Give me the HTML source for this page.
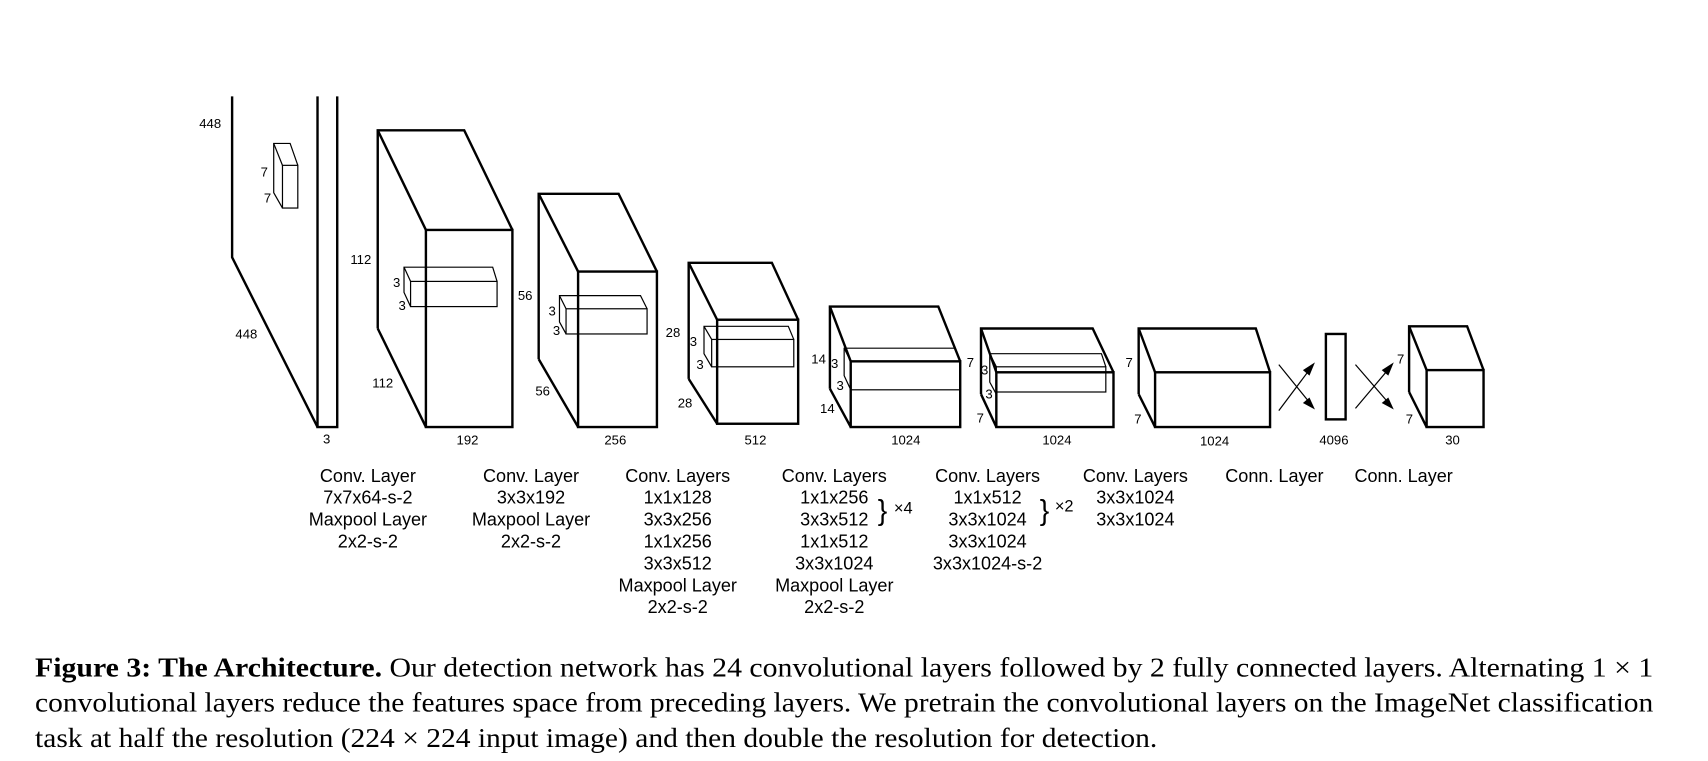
<!DOCTYPE html>
<html><head><meta charset="utf-8"><style>
html,body{margin:0;padding:0;background:#fff;}
svg{display:block;}
.l{font-family:"Liberation Sans",sans-serif;font-size:12px;fill:#000;}
.c{font-family:"Liberation Sans",sans-serif;font-size:16.5px;fill:#000;text-anchor:middle;}
.cap{font-family:"Liberation Serif",serif;font-size:25px;fill:#000;}
</style></head><body>
<svg width="1708" height="761" viewBox="0 0 1560 695" preserveAspectRatio="none" xmlns="http://www.w3.org/2000/svg">
<g fill="none" stroke="#000" stroke-width="2.2" stroke-linejoin="miter">
<polyline points="212,88 212,235 290,390"/>
<polyline points="290,88 290,390 308,390 308,88"/>
<polyline points="345,300 345,119 424,119 468,210"/>
<line x1="345" y1="119" x2="389" y2="210"/><line x1="345" y1="300" x2="389" y2="390"/>
<rect x="389" y="210" width="79" height="180"/>
<polyline points="492,328 492,177 565,177 600,248"/>
<line x1="492" y1="177" x2="528" y2="248"/><line x1="492" y1="328" x2="528" y2="390"/>
<rect x="528" y="248" width="72" height="142"/>
<polyline points="629,346 629,240 705,240 729,292"/>
<line x1="629" y1="240" x2="655" y2="292"/><line x1="629" y1="346" x2="655" y2="387"/>
<rect x="655" y="292" width="74" height="95"/>
<polyline points="758,355 758,280 857,280 877,330"/>
<line x1="758" y1="280" x2="777" y2="330"/><line x1="758" y1="355" x2="777" y2="390"/>
<rect x="777" y="330" width="100" height="60"/>
<polyline points="896,360 896,300 998,300 1017,340"/>
<line x1="896" y1="300" x2="910" y2="340"/><line x1="896" y1="360" x2="910" y2="390"/>
<rect x="910" y="340" width="107" height="50"/>
<polyline points="1040,360 1040,300 1147,300 1160,340"/>
<line x1="1040" y1="300" x2="1055" y2="340"/><line x1="1040" y1="360" x2="1055" y2="390"/>
<rect x="1055" y="340" width="105" height="50"/>
<rect x="1211" y="305" width="18" height="78"/>
<polyline points="1287,358 1287,298 1340,298 1355,338"/>
<line x1="1287" y1="298" x2="1303" y2="338"/><line x1="1287" y1="358" x2="1303" y2="390"/>
<rect x="1303" y="338" width="52" height="52"/>
</g>
<g fill="none" stroke="#000" stroke-width="1.1">
<polyline points="258,190 250,176 250,131 265,131 272,151"/>
<line x1="250" y1="131" x2="258" y2="151"/>
<rect x="258" y="151" width="14" height="39"/>
<polyline points="375,280 369,267 369,244 450,244 454,257"/><line x1="369" y1="244" x2="375" y2="257"/>
<rect x="375" y="257" width="79" height="23"/>
<polyline points="517,305 511,294 511,270 585,270 591,282"/><line x1="511" y1="270" x2="517" y2="282"/>
<rect x="517" y="282" width="74" height="23"/>
<polyline points="650,335 643,323 643,298 720,298 725,310"/><line x1="643" y1="298" x2="650" y2="310"/>
<rect x="650" y="310" width="75" height="25"/>
<polyline points="777,356 771,343 771,318 872,318 877,330"/><line x1="771" y1="318" x2="777" y2="330"/>
<rect x="777" y="330" width="100" height="26"/>
<polyline points="910,360 904,349 904,323 1006,323 1010,335"/><line x1="904" y1="323" x2="910" y2="335"/>
<rect x="910" y="335" width="100" height="23"/>
<line x1="1168" y1="333" x2="1198" y2="370"/><line x1="1168" y1="375" x2="1198" y2="335"/>
<line x1="1238" y1="333" x2="1270" y2="370"/><line x1="1238" y1="373" x2="1270" y2="335"/>
</g>
<g fill="#000">
<polygon points="1201,374 1190,368 1196,363"/>
<polygon points="1201,331 1196,343 1190,338"/>
<polygon points="1273,374 1262,368 1268,363"/>
<polygon points="1273,331 1268,343 1262,338"/>
</g>
<g class="l">
<text x="182" y="117">448</text><text x="215" y="309">448</text><text x="295" y="405">3</text>
<text x="238" y="161">7</text><text x="241" y="185">7</text>
<text x="320" y="241">112</text><text x="340" y="354">112</text><text x="417" y="406">192</text>
<text x="359" y="262">3</text><text x="364" y="283">3</text>
<text x="473" y="274">56</text><text x="489" y="361">56</text><text x="552" y="406">256</text>
<text x="630" y="316">3</text><text x="636" y="337">3</text>
<text x="608" y="308">28</text><text x="619" y="372">28</text><text x="680" y="406">512</text>
<text x="501" y="288">3</text><text x="505" y="306">3</text>
<text x="741" y="332">14</text><text x="749" y="377">14</text><text x="814" y="406">1024</text>
<text x="759" y="336">3</text><text x="764" y="356">3</text>
<text x="883" y="335">7</text><text x="892" y="386">7</text><text x="952" y="406">1024</text>
<text x="896" y="342">3</text><text x="900" y="364">3</text>
<text x="1028" y="335">7</text><text x="1036" y="387">7</text><text x="1096" y="407">1024</text>
<text x="1205" y="406">4096</text>
<text x="1276" y="332">7</text><text x="1284" y="387">7</text><text x="1320" y="406">30</text>
</g>
<g class="c">
<text x="336" y="440">Conv. Layer</text><text x="336" y="460">7x7x64-s-2</text><text x="336" y="480">Maxpool Layer</text><text x="336" y="500">2x2-s-2</text>
<text x="485" y="440">Conv. Layer</text><text x="485" y="460">3x3x192</text><text x="485" y="480">Maxpool Layer</text><text x="485" y="500">2x2-s-2</text>
<text x="619" y="440">Conv. Layers</text><text x="619" y="460">1x1x128</text><text x="619" y="480">3x3x256</text><text x="619" y="500">1x1x256</text><text x="619" y="520">3x3x512</text><text x="619" y="540">Maxpool Layer</text><text x="619" y="560">2x2-s-2</text>
<text x="762" y="440">Conv. Layers</text><text x="762" y="460">1x1x256</text><text x="762" y="480">3x3x512</text><text x="762" y="500">1x1x512</text><text x="762" y="520">3x3x1024</text><text x="762" y="540">Maxpool Layer</text><text x="762" y="560">2x2-s-2</text>
<text x="902" y="440">Conv. Layers</text><text x="902" y="460">1x1x512</text><text x="902" y="480">3x3x1024</text><text x="902" y="500">3x3x1024</text><text x="902" y="520">3x3x1024-s-2</text>
<text x="1037" y="440">Conv. Layers</text><text x="1037" y="460">3x3x1024</text><text x="1037" y="480">3x3x1024</text>
<text x="1164" y="440">Conn. Layer</text><text x="1282" y="440">Conn. Layer</text>
<text x="806" y="475" style="font-size:26px">}</text><text x="825" y="469" style="font-size:15px">×4</text>
<text x="954" y="475" style="font-size:26px">}</text><text x="972" y="467" style="font-size:15px">×2</text>
</g>
<text class="cap" x="32" y="618" textLength="1478" lengthAdjust="spacingAndGlyphs"><tspan font-weight="bold">Figure 3: The Architecture.</tspan> Our detection network has 24 convolutional layers followed by 2 fully connected layers. Alternating 1 × 1</text>
<text class="cap" x="32" y="650" textLength="1478" lengthAdjust="spacingAndGlyphs">convolutional layers reduce the features space from preceding layers.  We pretrain the convolutional layers on the ImageNet classification</text>
<text class="cap" x="32" y="682" textLength="1025" lengthAdjust="spacingAndGlyphs">task at half the resolution (224 × 224 input image) and then double the resolution for detection.</text>
</svg>
</body></html>
